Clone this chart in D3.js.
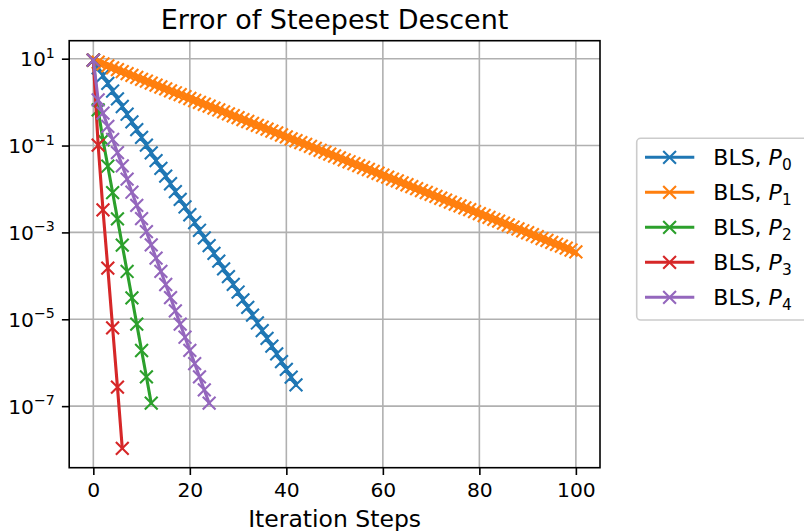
<!DOCTYPE html>
<html>
<head>
<meta charset="utf-8">
<script src="https://cdn.jsdelivr.net/npm/d3@7"></script>
<style>
    body { margin: 0; background: #ffffff; }
    svg { display: block; font-family: "DejaVu Sans", sans-serif; }
</style>
</head>
<body>
<svg id="chart" width="804" height="531"></svg>
<script>
// Error values per iteration step (index = step)
const errP0 = [9.27, 6.15, 4.08, 2.71, 1.80, 1.19, 0.792, 0.526, 0.349, 0.232, 0.154,
    0.102, 0.0678, 0.0450, 0.0299, 0.0198, 0.0132, 0.00873, 0.00579, 0.00385, 0.00255,
    0.00169, 0.00112, 7.46e-4, 4.95e-4, 3.29e-4, 2.18e-4, 1.45e-4, 9.62e-5, 6.38e-5, 4.24e-5,
    2.81e-5, 1.87e-5, 1.24e-5, 8.22e-6, 5.46e-6, 3.62e-6, 2.40e-6, 1.60e-6, 1.06e-6, 7.03e-7,
    4.67e-7, 3.10e-7];

const errP1 = [9.27, 8.37, 7.57, 6.82, 6.17, 5.57, 5.04, 4.55, 4.11, 3.71, 3.35,
    3.03, 2.74, 2.47, 2.23, 2.01, 1.82, 1.64, 1.49, 1.34, 1.21,
    1.09, 0.989, 0.893, 0.807, 0.729, 0.659, 0.594, 0.537, 0.485, 0.438,
    0.396, 0.358, 0.323, 0.292, 0.264, 0.238, 0.215, 0.195, 0.175, 0.158,
    0.143, 0.129, 0.117, 0.106, 0.0953, 0.0861, 0.0778, 0.0703, 0.0635, 0.0574,
    0.0518, 0.0468, 0.0423, 0.0382, 0.0345, 0.0312, 0.0281, 0.0254, 0.0230, 0.0207,
    0.0187, 0.0169, 0.0153, 0.0138, 0.0125, 0.0113, 0.0102, 0.00920, 0.00830, 0.00750,
    0.00678, 0.00612, 0.00553, 0.00500, 0.00451, 0.00407, 0.00368, 0.00333, 0.00301, 0.00272,
    0.00245, 0.00221, 0.00200, 0.00181, 0.00163, 0.00148, 0.00133, 0.00120, 0.00109, 9.82e-4,
    8.87e-4, 8.02e-4, 7.23e-4, 6.53e-4, 5.90e-4, 5.33e-4, 4.82e-4, 4.36e-4, 3.93e-4, 3.55e-4];

const errP2 = [9.27, 0.661, 0.135, 0.0334, 0.00828, 0.00205, 5.08e-4, 1.26e-4, 3.12e-5,
    7.73e-6, 1.91e-6, 4.74e-7, 1.17e-7];

const errP3 = [9.27, 0.102, 3.31e-3, 1.51e-4, 6.31e-6, 2.75e-7, 1.07e-8];

const errP4 = [9.27, 1.12, 0.557, 0.277, 0.138, 0.0686, 0.0341, 0.0169, 0.00842, 0.00419,
    0.00208, 0.00104, 5.14e-4, 2.56e-4, 1.27e-4, 6.32e-5, 3.14e-5, 1.56e-5, 7.76e-6,
    3.86e-6, 1.92e-6, 9.55e-7, 4.74e-7, 2.36e-7, 1.17e-7];

const seriesLabels = ["0", "1", "2", "3", "4"]; // subscript of P in "BLS, P_i"
const seriesColors = ["#1f77b4", "#ff7f0e", "#2ca02c", "#d62728", "#9467bd"];
const xTickValues = [0, 20, 40, 60, 80, 100];
const yTickExponents = [1, -1, -3, -5, -7];

const CHART = {
    left: 69.2,
    right: 600,
    top: 40.7,
    bottom: 467.7,
    tickLength: 7.3,
    tickFont: 20.3,
    lineWidth: 3.1,
    markerHalf: 6.4,
    markerWidth: 2.1,
    gridColor: "#b0b0b0",
    gridWidth: 1.6,
    spineWidth: 1.6
};

const svg = d3.select("#chart");
const c = CHART;
const allSeries = [errP0, errP1, errP2, errP3, errP4];

// matplotlib style autoscale: 5% margin, in log space for y
const allValues = allSeries.flat();
const logMin = Math.log10(d3.min(allValues));
const logMax = Math.log10(d3.max(allValues));
const logPad = (logMax - logMin) * 0.05;
const maxStep = d3.max(allSeries, (s) => s.length - 1);

const x = d3.scaleLinear()
    .domain([-maxStep * 0.05, maxStep * 1.05])
    .range([c.left, c.right]);

const y = d3.scaleLog()
    .domain([Math.pow(10, logMin - logPad), Math.pow(10, logMax + logPad)])
    .range([c.bottom, c.top]);

const yTickValues = yTickExponents.map((e) => Math.pow(10, e));

// Grid
const grid = svg.append("g").attr("class", "grid");
xTickValues.forEach((t) => {
    grid.append("line")
        .attr("x1", x(t)).attr("x2", x(t))
        .attr("y1", c.top).attr("y2", c.bottom)
        .attr("stroke", c.gridColor)
        .attr("stroke-width", c.gridWidth);
});
yTickValues.forEach((t) => {
    grid.append("line")
        .attr("x1", c.left).attr("x2", c.right)
        .attr("y1", y(t)).attr("y2", y(t))
        .attr("stroke", c.gridColor)
        .attr("stroke-width", c.gridWidth);
});

svg.append("clipPath")
    .attr("id", "plot-clip")
    .append("rect")
    .attr("x", c.left)
    .attr("y", c.top)
    .attr("width", c.right - c.left)
    .attr("height", c.bottom - c.top);

/**
 * Path for an 'x' marker centred on (cx, cy)
 */
function crossPath(cx, cy, h) {
    return `M ${cx - h} ${cy - h} L ${cx + h} ${cy + h} M ${cx - h} ${cy + h} L ${cx + h} ${cy - h}`;
}

// Series: line then markers, one series after the other
const plot = svg.append("g").attr("clip-path", "url(#plot-clip)");
const line = d3.line()
    .x((d, i) => x(i))
    .y((d) => y(d));

allSeries.forEach((values, si) => {
    const color = seriesColors[si];
    plot.append("path")
        .attr("d", line(values))
        .attr("fill", "none")
        .attr("stroke", color)
        .attr("stroke-width", c.lineWidth)
        .attr("stroke-linejoin", "round")
        .attr("stroke-linecap", "square");

    plot.append("path")
        .attr("d", values.map((v, i) => crossPath(x(i), y(v), c.markerHalf)).join(" "))
        .attr("fill", "none")
        .attr("stroke", color)
        .attr("stroke-width", c.markerWidth)
        .attr("stroke-linecap", "butt");
});

// Frame
svg.append("rect")
    .attr("x", c.left)
    .attr("y", c.top)
    .attr("width", c.right - c.left)
    .attr("height", c.bottom - c.top)
    .attr("fill", "none")
    .attr("stroke", "#000000")
    .attr("stroke-width", c.spineWidth);

// X axis
const xAxis = svg.append("g")
    .attr("transform", `translate(0,${c.bottom})`)
    .call(d3.axisBottom(x)
        .tickValues(xTickValues)
        .tickSize(c.tickLength)
        .tickSizeOuter(0)
        .tickPadding(8));
xAxis.select(".domain").remove();
xAxis.selectAll(".tick line").attr("stroke", "#000").attr("stroke-width", c.spineWidth);
xAxis.selectAll(".tick text")
    .attr("font-family", "DejaVu Sans")
    .attr("font-size", c.tickFont)
    .attr("fill", "#000");

// Y axis, labels written as 10 with a superscript exponent
const yAxis = svg.append("g")
    .attr("transform", `translate(${c.left},0)`)
    .call(d3.axisLeft(y)
        .tickValues(yTickValues)
        .tickSize(c.tickLength)
        .tickSizeOuter(0)
        .tickPadding(7));
yAxis.select(".domain").remove();
yAxis.selectAll(".tick line").attr("stroke", "#000").attr("stroke-width", c.spineWidth);
yAxis.selectAll(".tick text")
    .attr("font-family", "DejaVu Sans")
    .attr("font-size", c.tickFont)
    .attr("fill", "#000")
    .attr("dy", 7)
    .text(null)
    .each(function(d) {
        const exp = Math.round(Math.log10(d));
        const t = d3.select(this);
        t.append("tspan").text("10");
        t.append("tspan")
            .attr("font-size", 14.2)
            .attr("dy", -8.5)
            .text(exp < 0 ? "\u2212" + Math.abs(exp) : String(exp));
    });

// Title and axis label
svg.append("text")
    .attr("x", (c.left + c.right) / 2)
    .attr("y", 29.3)
    .attr("text-anchor", "middle")
    .attr("font-size", 27)
    .attr("fill", "#000")
    .text("Error of Steepest Descent");

svg.append("text")
    .attr("x", (c.left + c.right) / 2)
    .attr("y", 527)
    .attr("text-anchor", "middle")
    .attr("font-size", 23.5)
    .attr("fill", "#000")
    .text("Iteration Steps");

// Legend
const legend = svg.append("g").attr("class", "legend");
legend.append("rect")
    .attr("x", 636.7)
    .attr("y", 138.3)
    .attr("width", 190)
    .attr("height", 181.7)
    .attr("rx", 4)
    .attr("fill", "#ffffff")
    .attr("fill-opacity", 0.8)
    .attr("stroke", "#cccccc")
    .attr("stroke-width", 1.6);

seriesLabels.forEach((sub, i) => {
    const rowY = 157.3 + i * 35;
    const color = seriesColors[i];
    legend.append("line")
        .attr("x1", 645).attr("x2", 694.3)
        .attr("y1", rowY).attr("y2", rowY)
        .attr("stroke", color)
        .attr("stroke-width", c.lineWidth);
    legend.append("path")
        .attr("d", crossPath(669.6, rowY, c.markerHalf))
        .attr("fill", "none")
        .attr("stroke", color)
        .attr("stroke-width", c.markerWidth);

    const label = legend.append("text")
        .attr("x", 713.3)
        .attr("y", rowY + 8)
        .attr("font-size", 22)
        .attr("fill", "#000");
    label.append("tspan").text("BLS, ");
    label.append("tspan").attr("font-style", "italic").text("P");
    label.append("tspan")
        .attr("font-size", 15.4)
        .attr("dy", 4.8)
        .text(sub);
});
</script>
</body>
</html>
